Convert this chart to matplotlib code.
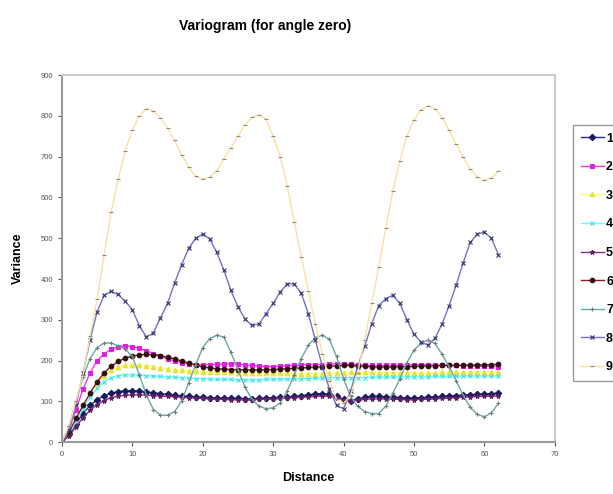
import matplotlib.pyplot as plt

plt.rcParams['font.family'] = ['Liberation Sans', 'DejaVu Sans']

distance = list(range(0, 63))

s1 = [0, 20, 45, 70, 90, 104, 114, 120, 124, 126, 126, 125, 123, 121, 119, 117, 115, 113, 112, 111,
      110, 109, 108, 108, 107, 107, 106, 106, 107, 108, 109, 110, 111, 112, 114, 116, 118, 119, 117, 112,
      105, 102, 106, 110, 112, 112, 111, 110, 109, 108, 108, 109, 110, 111, 112, 113, 114, 115, 116, 117,
      118, 119, 120]
s2 = [0, 30, 80, 130, 170, 200, 216, 228, 234, 236, 234, 230, 224, 217, 210, 204, 199, 195, 192, 190,
      189, 190, 191, 192, 192, 191, 190, 188, 186, 185, 185, 186, 187, 188, 189, 190, 190, 190, 191, 192,
      192, 191, 190, 189, 188, 188, 188, 188, 189, 189, 190, 190, 190, 189, 189, 188, 188, 187, 187, 186,
      186, 186, 185]
s3 = [0, 22, 55, 90, 120, 145, 163, 176, 184, 188, 190, 189, 187, 185, 182, 180, 178, 176, 175, 174,
      173, 172, 172, 171, 171, 170, 170, 170, 170, 170, 169, 169, 169, 168, 168, 168, 168, 168, 169, 169,
      170, 171, 171, 171, 171, 170, 170, 170, 170, 170, 170, 170, 170, 170, 171, 171, 171, 171, 172, 172,
      172, 172, 172]
s4 = [0, 20, 50, 82, 110, 132, 148, 158, 163, 165, 165, 164, 163, 162, 161, 160, 159, 158, 157, 156,
      155, 155, 154, 154, 154, 153, 153, 153, 153, 154, 154, 155, 155, 155, 156, 156, 157, 157, 158, 158,
      158, 158, 158, 158, 159, 159, 159, 159, 160, 160, 160, 160, 160, 161, 161, 161, 161, 162, 162, 162,
      162, 162, 162]
s5 = [0, 15, 38, 60, 78, 92, 102, 109, 113, 115, 116, 116, 115, 114, 113, 112, 111, 110, 109, 108,
      107, 106, 105, 105, 104, 104, 104, 104, 105, 105, 106, 107, 108, 109, 110, 111, 112, 113, 112, 108,
      104, 102, 103, 105, 106, 106, 106, 105, 105, 104, 104, 105, 105, 106, 107, 108, 109, 110, 111, 112,
      112, 113, 113]
s6 = [0, 25, 58, 90, 120, 148, 170, 186, 198, 206, 211, 214, 215, 214, 212, 208, 204, 199, 194, 189,
      185, 182, 180, 179, 178, 178, 177, 177, 177, 178, 178, 179, 180, 181, 182, 183, 184, 185, 186, 187,
      188, 188, 187, 186, 185, 184, 184, 184, 185, 185, 186, 186, 187, 187, 188, 188, 188, 189, 189, 189,
      190, 190, 191]
s7 = [0, 40, 100, 160, 205, 232, 243, 243, 236, 228, 210, 165, 115, 80, 66, 66, 75, 100, 145, 190,
      232, 254, 262, 258, 220, 178, 135, 105, 88, 82, 84, 96, 125, 165, 205, 238, 256, 262, 252, 210,
      155, 112, 88, 75, 70, 70, 88, 120, 155, 195, 225, 243, 250, 242, 215, 185, 150, 115, 85, 68,
      62, 72, 95]
s8 = [0, 30, 90, 170, 250, 320, 360, 370, 362, 345, 325, 285, 258, 268, 305, 340, 390, 435, 475, 500,
      510, 498, 465, 422, 372, 332, 302, 286, 290, 315, 340, 368, 388, 388, 365, 315, 250, 185, 130, 90,
      82, 125, 185, 235, 290, 335, 352, 360, 340, 300, 265, 245, 238, 255, 290, 335, 385, 440, 490, 510,
      515, 500, 460]
s9 = [0, 40, 100, 165, 260, 350, 460, 565, 645, 715, 765, 800, 818, 812, 795, 770, 740, 705, 675, 652,
      645, 650, 665, 695, 722, 750, 778, 797, 802, 792, 750, 700, 628, 540, 455, 370, 290, 215, 150, 105,
      95, 115, 170, 250, 340, 430, 525, 615, 690, 750, 790, 815, 825, 818, 795, 765, 730, 698, 670, 650,
      642, 648, 665]

series = [s1, s2, s3, s4, s5, s6, s7, s8, s9]
names = ["1", "2", "3", "4", "5", "6", "7", "8", "9"]

line_colors = ["#2a2a80", "#ff33ff", "#ffff66", "#66ffff", "#8a2a8a", "#802020", "#66aaaa", "#7373c8", "#f9e2a0"]
marker_colors = ["#1a1a60", "#e020e0", "#e8e040", "#40e0e0", "#602060", "#301010", "#777777", "#333366", "#8a8a8a"]
markers = ["D", "s", "^", "x", "*", "o", "+", "x", "_"]

fig = plt.figure(figsize=(6.13, 4.94), dpi=100)
ax = fig.add_axes([0.101, 0.105, 0.804, 0.743])

for i in range(len(series)):
    ax.plot(distance, series[i], color=line_colors[i], lw=1, marker=markers[i], ms=3.3,
            mfc=marker_colors[i], mec=marker_colors[i], mew=0.8, label=names[i])

ax.set_xlim(0, 70)
ax.set_ylim(0, 900)
ax.set_xticks(range(0, 71, 10))
ax.set_yticks(range(0, 901, 100))
ax.tick_params(labelsize=5.5, colors="#555555", length=3, width=0.8)

for side in ["left", "bottom"]:
    ax.spines[side].set_color("#999999")
    ax.spines[side].set_linewidth(1.5)
for side in ["top", "right"]:
    ax.spines[side].set_color("#cccccc")
    ax.spines[side].set_linewidth(1.5)

ax.set_xlabel("Distance", fontsize=9, fontweight="bold", labelpad=10)
ax.set_ylabel("Variance", fontsize=9, fontweight="bold", labelpad=12)
fig.text(0.432, 0.948, "Variogram (for angle zero)", fontsize=10, fontweight="bold", ha="center", va="center")

leg = fig.legend(loc="upper left", bbox_to_anchor=(573 / 613, 1 - 125 / 494), fontsize=9,
                 handlelength=1.9, handletextpad=0.15, borderpad=0.6, labelspacing=1.33,
                 fancybox=False, framealpha=1, edgecolor="#999999", borderaxespad=0)
for t in leg.get_texts():
    t.set_fontweight("bold")

fig.savefig("out.png", dpi=100)
